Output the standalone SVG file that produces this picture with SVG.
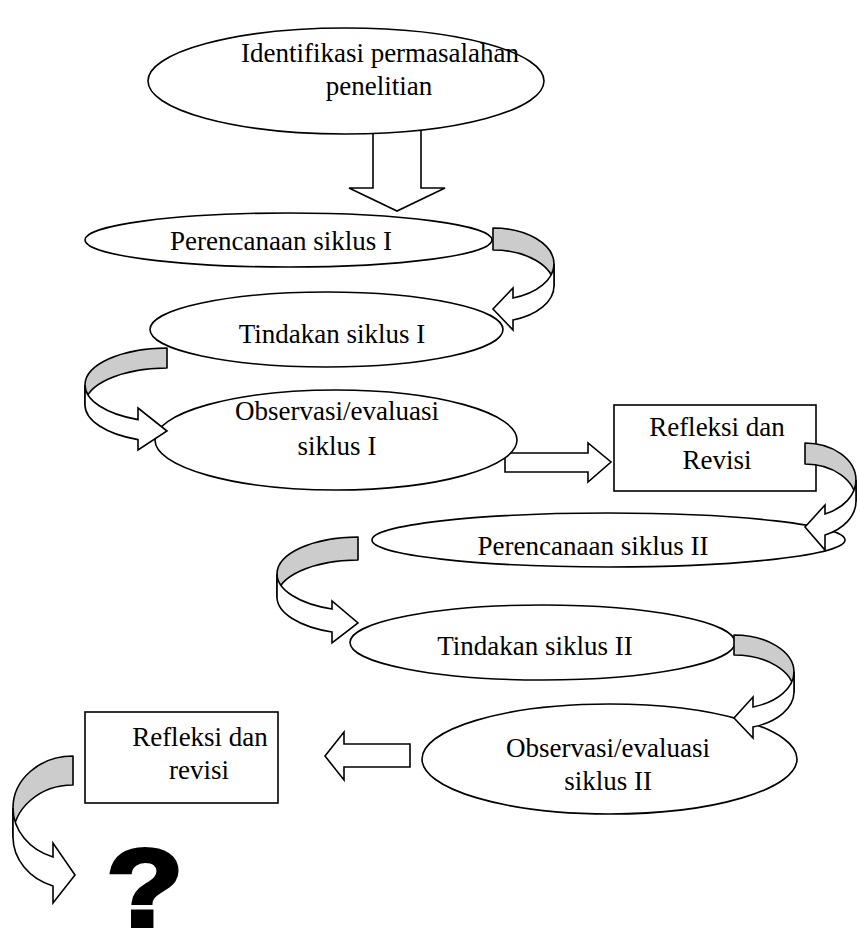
<svg xmlns="http://www.w3.org/2000/svg" width="857" height="934" viewBox="0 0 857 934">
<style>
.n{fill:#fff;stroke:#000;stroke-width:1.6}
.b{fill:#cccccc;stroke:#000;stroke-width:1.6;stroke-linejoin:round}
.f{fill:#fff;stroke:#000;stroke-width:1.6;stroke-linejoin:miter}
.t{font-family:"Liberation Serif","Times New Roman",serif;font-size:27px;fill:#000;text-anchor:middle}
</style>
<rect width="857" height="934" fill="#fff"/>
<g id="connectors">
<path class="f" d="M373,120 L373,188 L349,188 L397,211 L445,188 L421,188 L421,120 Z"/>
<path class="f" d="M505,453 L588,453 L588,443 L611,462 L588,482 L588,472 L505,472 Z"/>
<path class="f" d="M410,744 L344,744 L344,732 L325,756 L344,780 L344,767 L410,767 Z"/>
</g>
<g id="n1"><ellipse class="n" cx="346" cy="81" rx="198" ry="53"/>
<text class="t" x="380" y="62">Identifikasi permasalahan</text>
<text class="t" x="379" y="95">penelitian</text></g>
<g id="n2"><ellipse class="n" cx="288.5" cy="240" rx="203.5" ry="27"/>
<text class="t" x="281" y="250">Perencanaan siklus I</text></g>
<g id="n3"><ellipse class="n" cx="326.5" cy="329.5" rx="176.5" ry="37.5"/>
<text class="t" x="332" y="343">Tindakan siklus I</text></g>
<g id="n4"><ellipse class="n" cx="336" cy="440" rx="181" ry="50"/>
<text class="t" x="337" y="420">Observasi/evaluasi</text>
<text class="t" x="337" y="455">siklus I</text></g>
<g id="n5"><rect class="n" x="614" y="405" width="202" height="86"/>
<text class="t" x="717" y="436">Refleksi dan</text>
<text class="t" x="717" y="469">Revisi</text></g>
<g id="n6"><ellipse class="n" cx="608.5" cy="540" rx="236.5" ry="27"/>
<text class="t" x="593" y="555">Perencanaan siklus II</text></g>
<g id="n7"><ellipse class="n" cx="542.5" cy="642.5" rx="192.5" ry="37.5"/>
<text class="t" x="535" y="655">Tindakan siklus II</text></g>
<g id="n8"><ellipse class="n" cx="609.5" cy="759" rx="187.5" ry="55"/>
<text class="t" x="608" y="757">Observasi/evaluasi</text>
<text class="t" x="608" y="790">siklus II</text></g>
<g id="n9"><rect class="n" x="85" y="712" width="193" height="91"/>
<text class="t" x="200" y="746">Refleksi dan</text>
<text class="t" x="199" y="779">revisi</text></g>
<g id="curved-connectors">
<path class="b" d="M493,228 A61,36 0 0 1 554,264 L554,286 A61,36 0 0 0 493,250 Z"/>
<path class="f" d="M554,264 A61,36 0 0 1 513,298 L513,288 L493,309 L513,330 L513,320 A61,36 0 0 0 554,286 Z"/>
<path class="b" d="M167,348 A82,37 0 0 0 85,385 L85,405 A82,37 0 0 1 167,368 Z"/>
<path class="f" d="M85,385 A82,37 0 0 0 138,419.6 L138,408 L167,431 L138,450 L138,439.6 A82,37 0 0 1 85,405 Z"/>
<path class="b" d="M805,443 A51,37 0 0 1 856,480 L856,501 A51,37 0 0 0 805,464 Z"/>
<path class="f" d="M856,480 A51,37 0 0 1 825,514 L825,505 L805,527 L825,550 L825,535 A51,37 0 0 0 856,501 Z"/>
<path class="b" d="M358,537 A81,37 0 0 0 277,574 L277,597 A81,37 0 0 1 358,560 Z"/>
<path class="f" d="M277,574 A81,37 0 0 0 332,609 L332,601 L358,623 L332,643 L332,632 A81,37 0 0 1 277,597 Z"/>
<path class="b" d="M734,635 A60,37 0 0 1 794,672 L794,692 A60,37 0 0 0 734,655 Z"/>
<path class="f" d="M794,672 A60,37 0 0 1 753,707 L753,697 L734,718 L753,738 L753,727 A60,37 0 0 0 794,692 Z"/>
<path class="b" d="M73,756 A60,52 0 0 0 13,808 L13,837 A60,52 0 0 1 73,785 Z"/>
<path class="f" d="M13,808 A60,52 0 0 0 53,857 L53,843 L75,875 L53,903 L53,886 A60,52 0 0 1 13,837 Z"/>
</g>
<text transform="translate(145,926) scale(1.15,1)" x="0" y="0" font-family="'Liberation Sans',Arial,sans-serif" font-size="110" font-weight="bold" text-anchor="middle" fill="#000" stroke="#000" stroke-width="4">?</text>
</svg>
